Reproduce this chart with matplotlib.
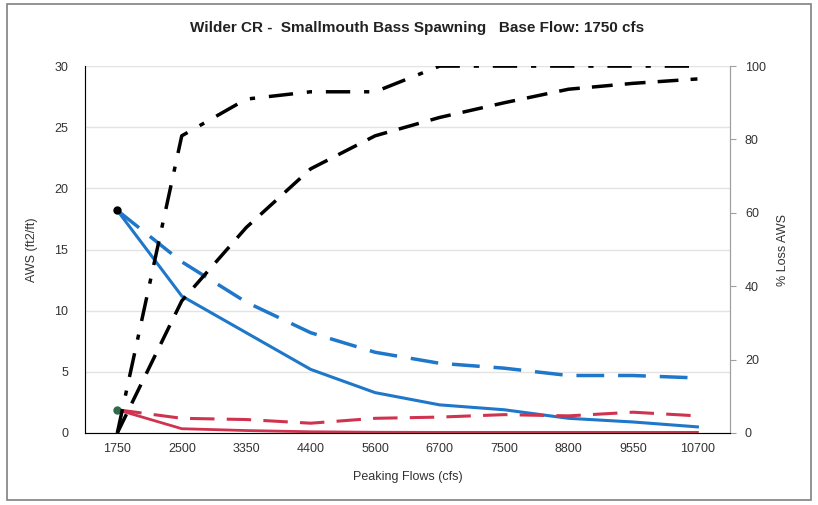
import matplotlib
matplotlib.use("Agg")
import matplotlib.pyplot as plt
from matplotlib.patches import Rectangle

flows = ['1750', '2500', '3350', '4400', '5600', '6700', '7500', '8800', '9550', '10700']

aws_blue = [18.2, 11.2, 8.2, 5.2, 3.3, 2.3, 1.9, 1.2, 0.9, 0.5]
aws_blue_dash = [18.2, 14.0, 10.7, 8.2, 6.6, 5.7, 5.3, 4.7, 4.7, 4.5]
aws_red = [1.9, 0.35, 0.2, 0.1, 0.06, 0.05, 0.05, 0.05, 0.05, 0.05]
aws_red_dash = [1.9, 1.2, 1.1, 0.8, 1.2, 1.3, 1.5, 1.4, 1.7, 1.4]

loss_dashdot = [0, 81, 91, 93, 93, 100, 100, 100, 100, 100]
loss_dash = [0, 36, 56, 72, 81, 86, 90, 93.7, 95.3, 96.5]

plt.rcParams['font.family'] = ['Liberation Sans', 'DejaVu Sans']

fig = plt.figure(figsize=(8.18, 5.05), dpi=100)
fig.patches.append(Rectangle((0.008, 0.01), 0.984, 0.982, transform=fig.transFigure,
                             fill=False, edgecolor='#808080', linewidth=1.2))

ax = fig.add_axes([0.104, 0.1426, 0.788, 0.7265])
x = list(range(len(flows)))

blue = '#1f77c9'
red = '#d0334f'

ax.plot(x, aws_blue, color=blue, lw=2.2)
ax.plot(x, aws_blue_dash, color=blue, lw=2.5, dashes=(8, 4))
ax.plot(x, aws_red, color=red, lw=2.0)
ax.plot(x, aws_red_dash, color=red, lw=2.2, dashes=(8, 4))
ax.plot([0], [aws_blue[0]], 'o', color='black', ms=5)
ax.plot([0], [aws_red[0]], 'o', color='#2e6b4a', ms=5)

ax.set_xlim(-0.5, len(flows) - 0.5)
ax.set_ylim(0, 30)
ax.set_yticks(range(0, 31, 5))
ax.set_xticks(x)
ax.set_xticklabels(flows)
ax.grid(axis='y', color='#e3e3e3', lw=1)
ax.set_axisbelow(True)
ax.spines['top'].set_visible(False)
for s in ['left', 'bottom', 'right']:
    ax.spines[s].set_color('#a0a0a0')
ax.tick_params(axis='both', colors='#a0a0a0', labelcolor='#333333', labelsize=9, length=0)
ax.tick_params(axis='y', pad=12)
ax.tick_params(axis='x', pad=7)
ax.set_ylabel('AWS (ft2/ft)', fontsize=9, color='#333333', labelpad=12)
ax.set_xlabel('Peaking Flows (cfs)', fontsize=9, color='#333333', labelpad=12)

ax2 = ax.twinx()
ax2.plot(x, loss_dashdot, color='black', lw=2.5, dashes=(7, 4, 1.5, 4))
ax2.plot(x, loss_dash, color='black', lw=2.5, dashes=(6, 3.5))
ax2.set_ylim(0, 100)
ax2.set_yticks(range(0, 101, 20))
ax2.spines['top'].set_visible(False)
ax2.spines['right'].set_color('#a0a0a0')
ax2.tick_params(axis='y', colors='#a0a0a0', labelcolor='#333333', labelsize=9, length=4, pad=7)
ax2.set_ylabel('% Loss AWS', fontsize=9, color='#333333', labelpad=8)

fig.text(0.510, 0.944, 'Wilder CR -  Smallmouth Bass Spawning   Base Flow: 1750 cfs',
         ha='center', va='center', fontsize=11, fontweight='bold', color='#222222')

fig.savefig('out.png', dpi=100)
